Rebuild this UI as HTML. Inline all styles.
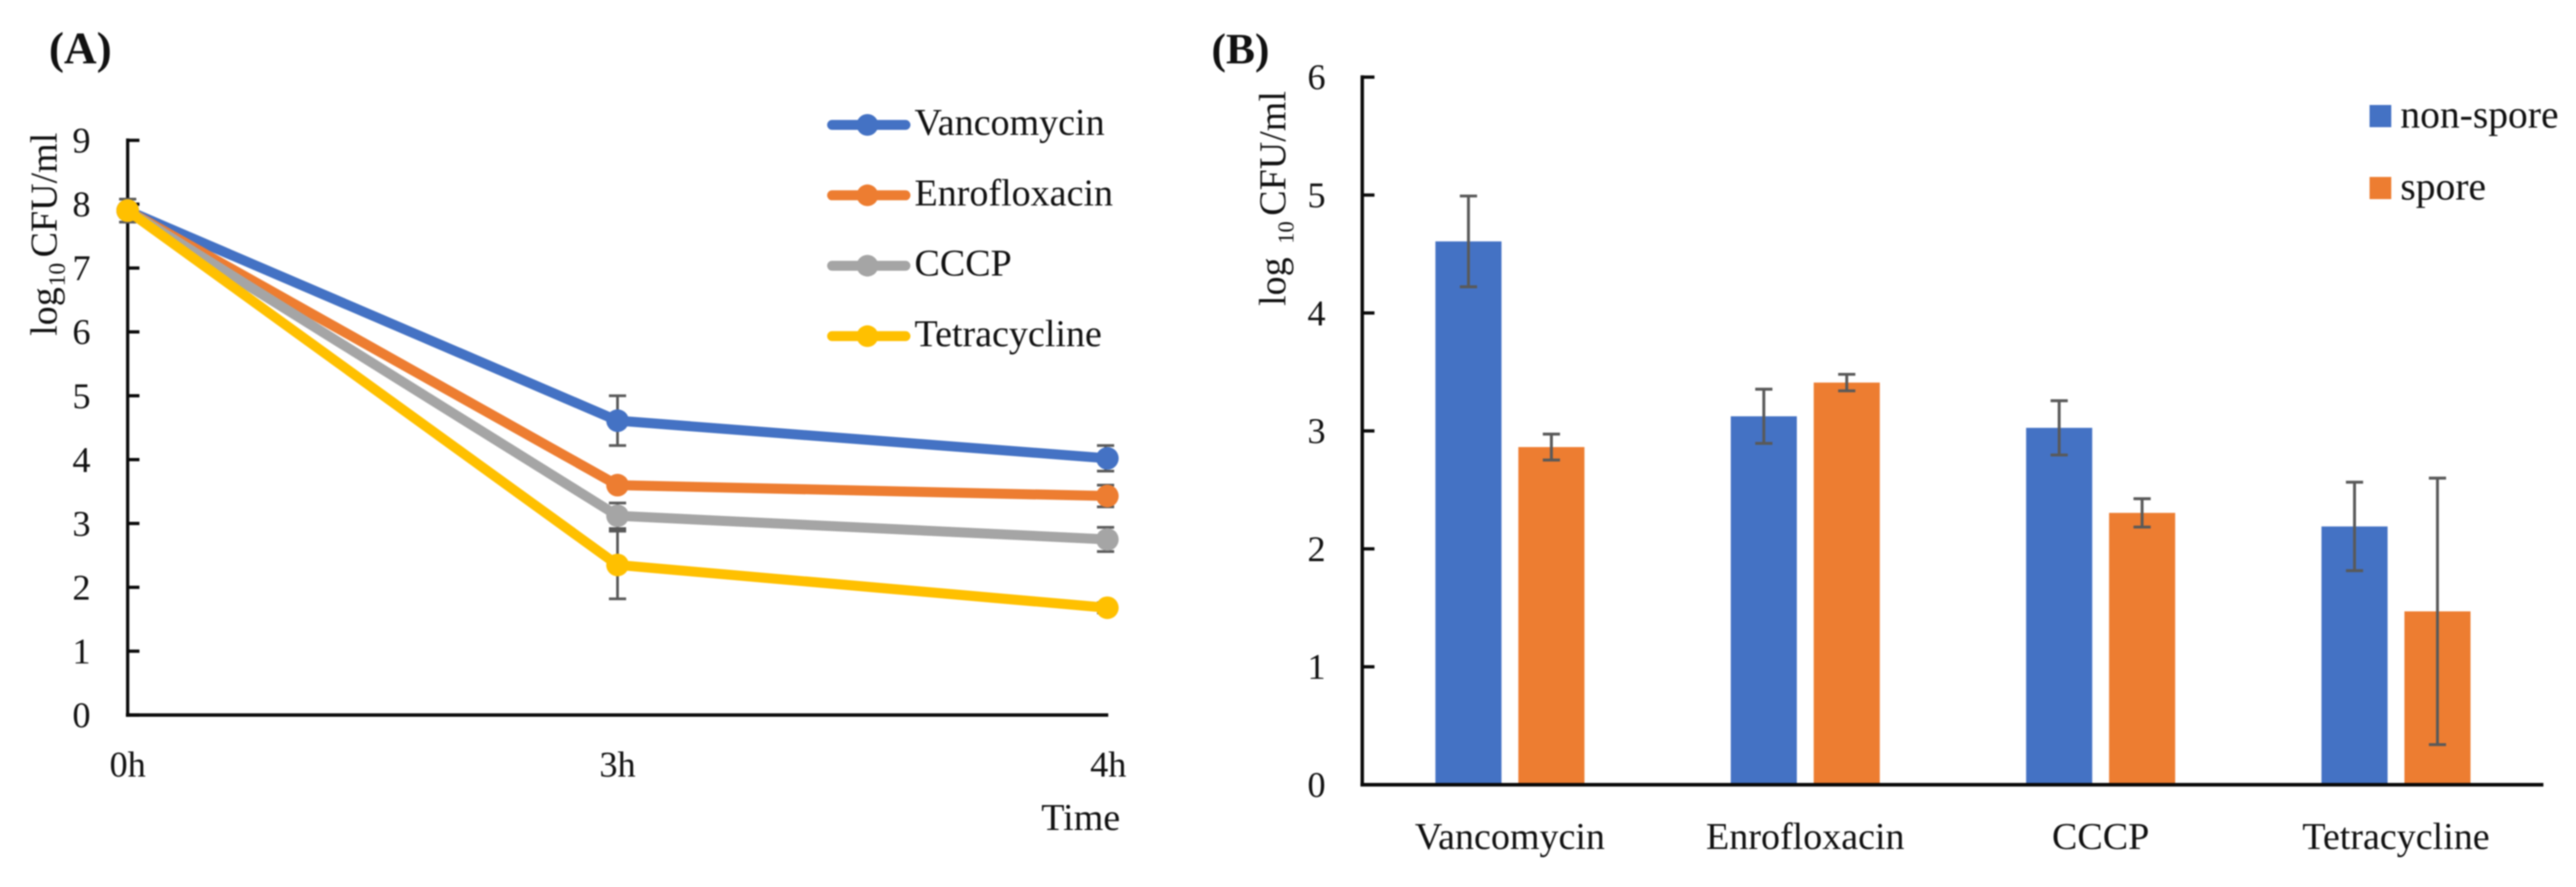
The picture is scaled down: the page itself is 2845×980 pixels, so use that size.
<!DOCTYPE html>
<html lang="en">
<head>
<meta charset="utf-8">
<title>Log10 CFU/ml time course and spore comparison</title>
<style>
  html, body { margin: 0; padding: 0; background: #fff; }
  body { width: 2845px; height: 980px; overflow: hidden; }
  svg { display: block; filter: blur(0.7px); }
  text { font-family: "Liberation Serif", serif; fill: #111; text-rendering: geometricPrecision; }
</style>
</head>
<body>
<svg id="figure" xmlns="http://www.w3.org/2000/svg" width="2845" height="980" viewBox="0 0 2845 980">
  <rect x="0" y="0" width="2845" height="980" fill="#ffffff"/>
  <text x="54" y="70" font-size="50" font-weight="bold">(A)</text>
  <text x="1338" y="70" font-size="48" font-weight="bold">(B)</text>
  <text transform="translate(62.5,371) rotate(-90)" font-size="42">log<tspan font-size="26" dy="9" dx="1">10</tspan><tspan dy="-9" dx="6">CFU/ml</tspan></text>
  <text transform="translate(1419.5,338) rotate(-90)" font-size="42">log<tspan font-size="25" dy="9" dx="15">10</tspan><tspan dy="-9" dx="6">CFU/ml</tspan></text>
  <text x="1150" y="917" font-size="42">Time</text>
  <g id="panelA"></g>
  <g id="panelB"></g>
</svg>
<script>
/* Panel A data */
const timeLabels = ["0h", "3h", "4h"];
const lineTicks = [0, 1, 2, 3, 4, 5, 6, 7, 8, 9];
const lineSeriesNames = ["Vancomycin", "Enrofloxacin", "CCCP", "Tetracycline"];
const vancomycinValues = [7.9, 4.61, 4.02];
const enrofloxacinValues = [7.9, 3.60, 3.43];
const cccpValues = [7.9, 3.12, 2.75];
const tetracyclineValues = [7.9, 2.35, 1.68];
const vancomycinErrors = [0.18, 0.39, 0.2];
const enrofloxacinErrors = [0.1, 0.08, 0.17];
const cccpErrors = [0.1, 0.2, 0.19];
const tetracyclineErrors = [0.1, 0.53, 0.08];

/* Panel B data */
const drugLabels = ["Vancomycin", "Enrofloxacin", "CCCP", "Tetracycline"];
const barTicks = [0, 1, 2, 3, 4, 5, 6];
const barSeriesNames = ["non-spore", "spore"];
const nonSporeValues = [4.607, 3.124, 3.026, 2.19];
const sporeValues = [2.863, 3.41, 2.305, 1.47];
const nonSporeErrors = [0.385, 0.23, 0.23, 0.375];
const sporeErrors = [0.11, 0.07, 0.12, 1.13];

const NS = "http://www.w3.org/2000/svg";
const BLUE = "#4472C4", ORANGE = "#ED7D31", GREY = "#A5A5A5", YELLOW = "#FFC000";
const ERR = "#595959", AXIS = "#0a0a0a";

function make(parent, tag, attrs, content) {
  const el = document.createElementNS(NS, tag);
  for (const k in attrs) el.setAttribute(k, attrs[k]);
  if (content !== undefined) el.textContent = content;
  parent.appendChild(el);
  return el;
}

/* ---------- Panel A ---------- */
const A = document.getElementById("panelA");
const ax = i => 141 + i * 541;
const ay = v => 790 - 70.55 * v;
const lineValues = [vancomycinValues, enrofloxacinValues, cccpValues, tetracyclineValues];
const lineErrors = [vancomycinErrors, enrofloxacinErrors, cccpErrors, tetracyclineErrors];
const lineColors = [BLUE, ORANGE, GREY, YELLOW];

lineTicks.forEach(t => {
  const tick = make(A, "line", { x1: 141, x2: 154, y1: ay(t), y2: ay(t), stroke: AXIS, "stroke-width": 3.6 });
  
  
  const lab = make(A, "text", { x: 90, y: ay(t) + 13.5, "font-size": 40, "text-anchor": "middle" }, String(t));
  
  
});
const aYAxis = make(A, "line", { x1: 141, x2: 141, y1: ay(9) - 2, y2: ay(0) + 2, stroke: AXIS, "stroke-width": 3.6 });


const aXAxis = make(A, "line", { x1: 139, x2: ax(2) + 1, y1: ay(0), y2: ay(0), stroke: AXIS, "stroke-width": 3.8 });


timeLabels.forEach((t, i) => {
  const lab = make(A, "text", { x: ax(i) + (i === 2 ? 1 : 0), y: 858, "font-size": 40, "text-anchor": "middle" }, t);
  
  
});

lineValues.forEach((vals, s) => {
  vals.forEach((v, i) => {
    const x = ax(i) - (i === 2 ? 2 : 0);
    const e = lineErrors[s][i];
    const bar = make(A, "path", {
      d: `M${x - 9.5} ${ay(v + e)}H${x + 9.5}M${x} ${ay(v + e)}V${ay(v - e)}M${x - 9.5} ${ay(v - e)}H${x + 9.5}`,
      fill: "none", stroke: ERR, "stroke-width": 3
    });
    
    
  });
});
lineValues.forEach((vals, s) => {
  const line = make(A, "polyline", {
    points: vals.map((v, i) => ax(i) + "," + ay(v)).join(" "),
    fill: "none", stroke: lineColors[s], "stroke-width": 11, "stroke-linejoin": "round", "stroke-linecap": "round"
  });
  
  
  vals.forEach((v, i) => {
    const pt = make(A, "circle", { cx: ax(i), cy: ay(v), r: 12.5, fill: lineColors[s] });
    
    
  });
});

lineSeriesNames.forEach((name, s) => {
  const ly = 138 + s * 77.8;
  const key = make(A, "line", { x1: 919, x2: 1000, y1: ly, y2: ly, stroke: lineColors[s], "stroke-width": 11, "stroke-linecap": "round" });
  
  
  const dot = make(A, "circle", { cx: 958, cy: ly, r: 12, fill: lineColors[s] });
  
  
  const txt = make(A, "text", { x: 1010, y: ly + 11, "font-size": 42 }, name);
  
  
});

/* ---------- Panel B ---------- */
const B = document.getElementById("panelB");
const bBand = 326.2;
const bx = i => 1504.5 + bBand * (i + 0.5);
const by = v => 867 - 130.3 * v;
const barWidth = 73, barOffset = 45.8;
const barValues = [nonSporeValues, sporeValues];
const barErrors = [nonSporeErrors, sporeErrors];
const barColors = [BLUE, ORANGE];

barTicks.forEach(t => {
  const tick = make(B, "line", { x1: 1504.5, x2: 1518, y1: by(t), y2: by(t), stroke: AXIS, "stroke-width": 3.6 });
  
  
  const lab = make(B, "text", { x: 1454, y: by(t) + 13.5, "font-size": 40, "text-anchor": "middle" }, String(t));
  
  
});

barValues.forEach((vals, s) => {
  vals.forEach((v, i) => {
    const cx = bx(i) + (s === 0 ? -barOffset : barOffset);
    const rect = make(B, "rect", { x: cx - barWidth / 2, y: by(v), width: barWidth, height: by(0) - by(v), fill: barColors[s] });
    
    
  });
});
const bYAxis = make(B, "line", { x1: 1504.5, x2: 1504.5, y1: by(6) - 2, y2: by(0) + 2, stroke: AXIS, "stroke-width": 3.8 });


const bXAxis = make(B, "line", { x1: 1502.5, x2: 2809, y1: by(0), y2: by(0), stroke: AXIS, "stroke-width": 4 });



barValues.forEach((vals, s) => {
  vals.forEach((v, i) => {
    const cx = bx(i) + (s === 0 ? -barOffset : barOffset);
    const e = barErrors[s][i];
    const bar = make(B, "path", {
      d: `M${cx - 9.5} ${by(v + e)}H${cx + 9.5}M${cx} ${by(v + e)}V${by(v - e)}M${cx - 9.5} ${by(v - e)}H${cx + 9.5}`,
      fill: "none", stroke: ERR, "stroke-width": 3.2
    });
    
    
  });
});

drugLabels.forEach((name, i) => {
  const lab = make(B, "text", { x: bx(i), y: 938, "font-size": 42, "text-anchor": "middle" }, name);
  
  
});

barSeriesNames.forEach((name, s) => {
  const top = 116 + s * 79.5;
  const sw = make(B, "rect", { x: 2617, y: top, width: 24, height: 24.5, fill: barColors[s] });
  
  
  const txt = make(B, "text", { x: 2651, y: top + 25, "font-size": 43.7 }, name);
  
  
});
</script>
</body>
</html>
